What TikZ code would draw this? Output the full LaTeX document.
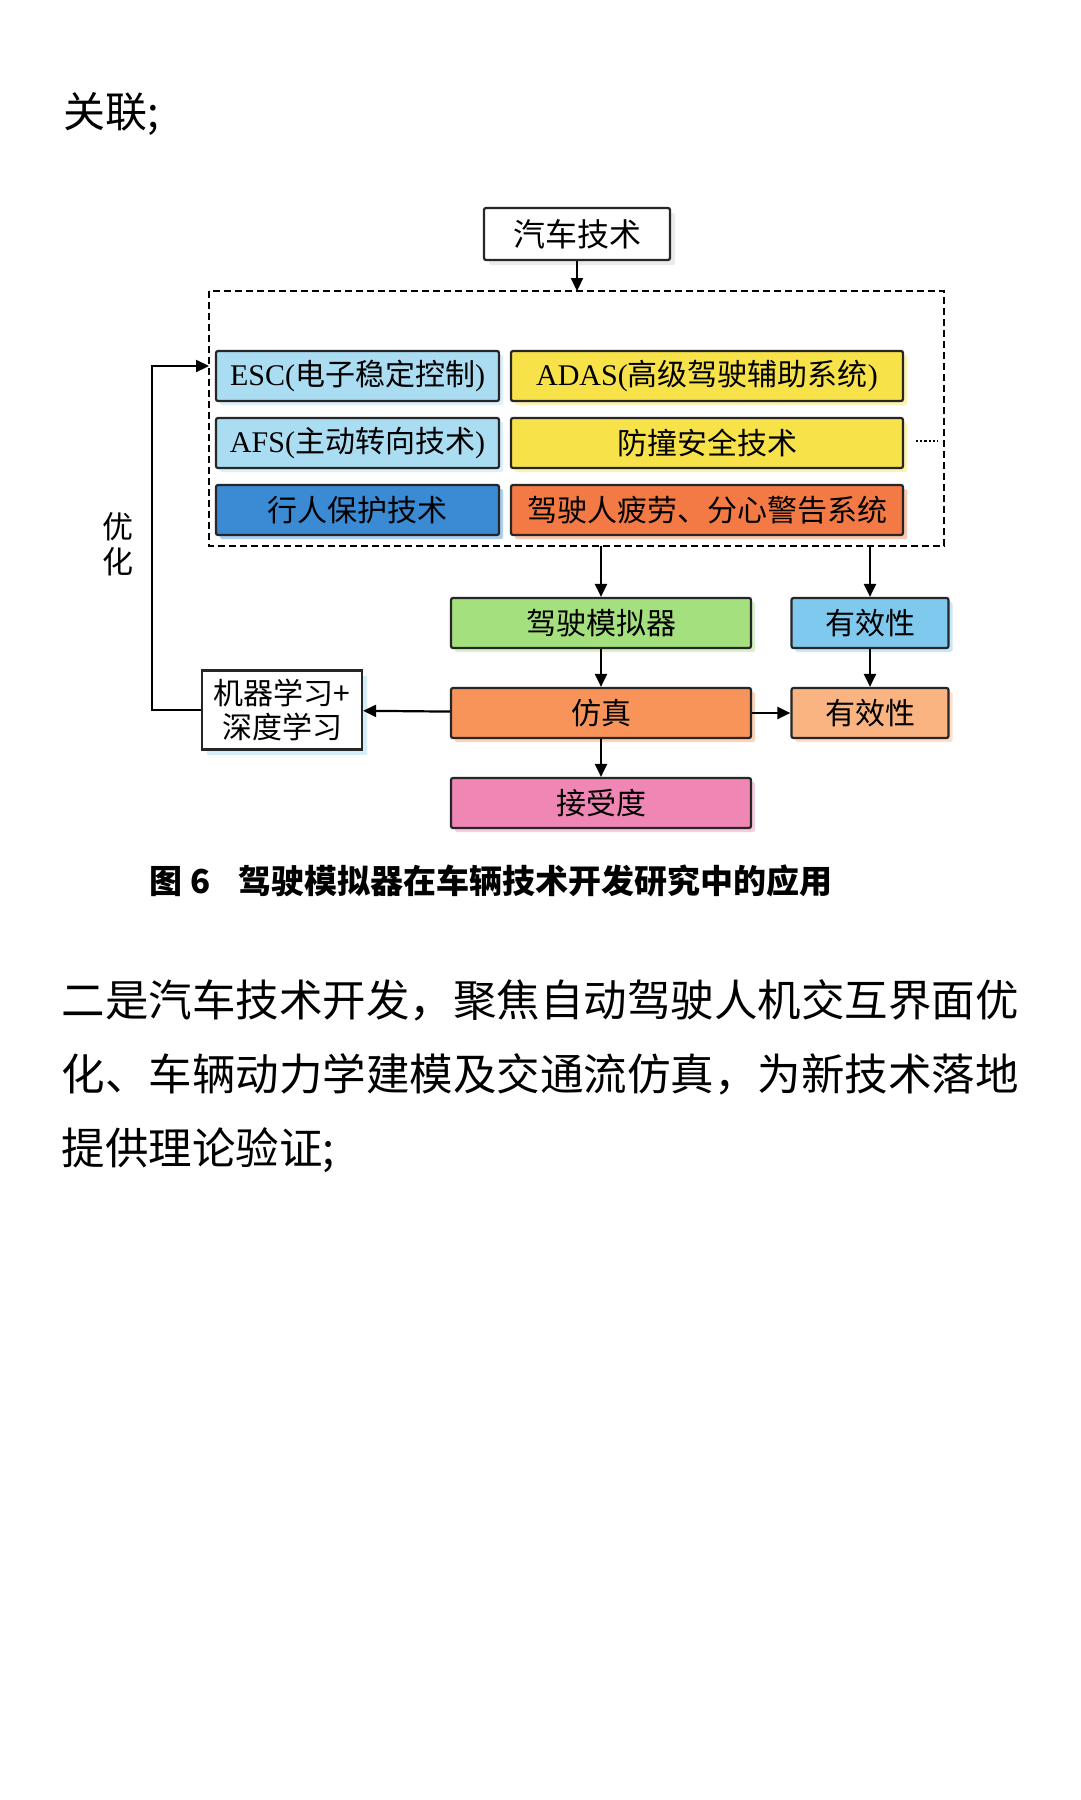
\documentclass[tikz,border=0pt]{standalone}
\usepackage{fontspec}
\setmainfont{Liberation Serif}
\newfontfamily\cjk{Noto Sans CJK SC}
\usetikzlibrary{arrows.meta,shadows}
\definecolor{lblue}{HTML}{AADCF2}
\definecolor{dblue}{HTML}{3A8BD4}
\definecolor{yel}{HTML}{F8E24A}
\definecolor{ored}{HTML}{F37A45}
\definecolor{grn}{HTML}{A4E07E}
\definecolor{sky}{HTML}{80C9EE}
\definecolor{org}{HTML}{F8945A}
\definecolor{lorg}{HTML}{F9B482}
\definecolor{pnk}{HTML}{F086B4}
\tikzset{
 bx/.style={draw=black!85,line width=2.2pt,rounded corners=2pt,minimum height=50pt,inner sep=0pt,font=\fontsize{30}{30}\selectfont\cjk,
   drop shadow={shadow xshift=4pt,shadow yshift=-4pt,fill=#1!70,opacity=0.6},fill=#1},
 arr/.style={line width=2.2pt,-{Triangle[length=13pt,width=12pt]}},
}
\newcommand\lat[1]{{\rmfamily\fontsize{30}{30}\selectfont #1}}
\begin{document}
\begin{tikzpicture}[x=1pt,y=-1pt]
\useasboundingbox[fill=white] (0,0) rectangle (1080,1800);
\node[anchor=west,font=\fontsize{42}{42}\selectfont\cjk] (t1) at (60,114) {关联;};
\node[draw=black!85,fill=white,line width=2.2pt,rounded corners=2pt,minimum width=186pt,minimum height=52pt,font=\fontsize{32}{32}\selectfont\cjk,drop shadow={shadow xshift=5pt,shadow yshift=-5pt,fill=black!15}] (top) at (577,234) {汽车技术};
\draw[dashed,line width=2pt,dash pattern=on 7pt off 4pt] (209,291) rectangle (944,546);
\coordinate (dt) at (577,291);
\node[bx=lblue,minimum width=283pt] (esc) at (357.5,376) {\lat{ESC(}电子稳定控制\lat{)}};
\node[bx=yel,minimum width=392pt] (adas) at (707,376) {\lat{ADAS(}高级驾驶辅助系统\lat{)}};
\node[bx=lblue,minimum width=283pt] (afs) at (357.5,443) {\lat{AFS(}主动转向技术\lat{)}};
\node[bx=yel,minimum width=392pt] (fz) at (707,443) {防撞安全技术};
\node[bx=dblue,minimum width=283pt] (xr) at (357.5,510) {行人保护技术};
\node[bx=ored,minimum width=392pt] (pl) at (707,510) {驾驶人疲劳、分心警告系统};
\draw[line width=2.2pt,dotted] (916,441) -- (938,441);
\draw[arr] (top) -- (dt);
\node[bx=grn,minimum width=300pt] (sim) at (601,623) {驾驶模拟器};
\node[bx=sky,minimum width=157pt] (yx1) at (870,623) {有效性};
\node[bx=org,minimum width=300pt] (fs) at (601,713) {仿真};
\node[bx=lorg,minimum width=157pt] (yx2) at (870,713) {有效性};
\node[bx=pnk,minimum width=300pt] (js) at (601,803) {接受度};
\node[draw=black!85,line width=2.2pt,minimum width=160pt,minimum height=79pt,align=center,font=\fontsize{30}{34}\selectfont\cjk,fill=white,drop shadow={shadow xshift=5pt,shadow yshift=-5pt,fill=lblue}] (ml) at (282,710) {机器学习+\\深度学习};
\coordinate (d1) at (601,546); \coordinate (d2) at (870,546);
\draw[arr] (d1) -- (sim);
\draw[arr] (d2) -- (yx1);
\draw[arr] (sim) -- (fs);
\draw[arr] (yx1) -- (yx2);
\draw[arr] (fs) -- (yx2);
\draw[arr] (fs) -- (js);
\draw[arr] (fs) -- (ml);
\coordinate (fl) at (209,366);
\draw[arr] (ml.west) -- (152,710) -- (152,366) -- (fl);
\node[font=\fontsize{31}{35}\selectfont\cjk,align=center] (yh) at (118,544) {优\\化};
\node[anchor=west,font=\fontsize{33}{33}\selectfont\cjk\bfseries] (cap) at (146,881) {图 6\hspace{28pt}驾驶模拟器在车辆技术开发研究中的应用};
\node[anchor=north west,align=left,font=\fontsize{43.5}{74}\selectfont\cjk] (para) at (58,976) {二是汽车技术开发，聚焦自动驾驶人机交互界面优\\化、车辆动力学建模及交通流仿真，为新技术落地\\提供理论验证;};
\end{tikzpicture}
\end{document}
